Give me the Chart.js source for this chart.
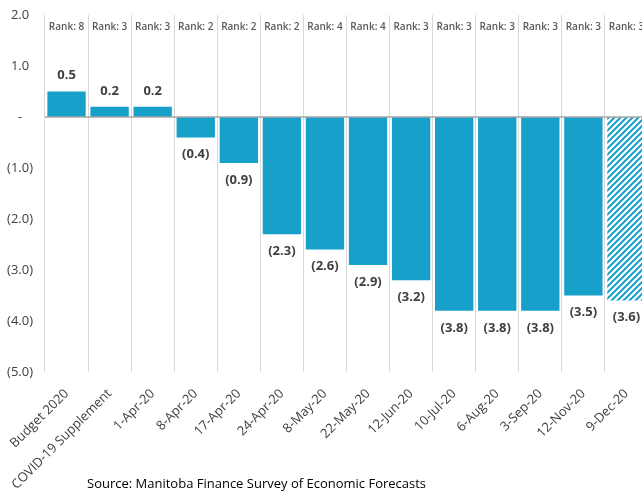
<!DOCTYPE html>
<html>
<head>
<meta charset="utf-8">
<script src="https://cdn.jsdelivr.net/npm/chart.js@4.4.0/dist/chart.umd.min.js"></script>
<style>
  html, body { margin: 0; padding: 0; background: #fff; overflow: hidden; width: 642px; height: 492px; }
  #wrap { position: absolute; left: 0; top: 0; width: 648px; height: 492px; }
  #source { position: absolute; left: 87px; top: 474px; font: 13px "Open Sans", sans-serif; color: #000; white-space: nowrap; }
</style>
</head>
<body>
<div id="wrap"><canvas id="forecastChart"></canvas></div>
<div id="source">Source: Manitoba Finance Survey of Economic Forecasts</div>
<script>
const surveyDates = ['Budget 2020', 'COVID-19 Supplement', '1-Apr-20', '8-Apr-20', '17-Apr-20', '24-Apr-20', '8-May-20',
  '22-May-20', '12-Jun-20', '10-Jul-20', '6-Aug-20', '3-Sep-20', '12-Nov-20', '9-Dec-20'];
const growthValues = [0.5, 0.2, 0.2, -0.4, -0.9, -2.3, -2.6, -2.9, -3.2, -3.8, -3.8, -3.8, -3.5, -3.6];
const rankValues = [8, 3, 3, 2, 2, 2, 4, 4, 3, 3, 3, 3, 3, 3];
const yTicks = [2, 1, 0, -1, -2, -3, -4, -5];

const BLUE = '#17a0ca';
const FONT = '"Open Sans", sans-serif';

function fmt(v) {
  if (Math.abs(v) < 1e-9) return '-';
  return v < 0 ? '(' + Math.abs(v).toFixed(1) + ')' : v.toFixed(1);
}

// diagonal stripes for the latest survey bar
function makeHatch() {
  const c = document.createElement('canvas');
  c.width = 6; c.height = 6;
  const g = c.getContext('2d');
  g.fillStyle = '#fff';
  g.fillRect(0, 0, 6, 6);
  g.strokeStyle = BLUE;
  g.lineWidth = 2;
  g.beginPath();
  g.moveTo(-1, 7); g.lineTo(7, -1);
  g.moveTo(-4, 4); g.lineTo(4, -4);
  g.moveTo(2, 10); g.lineTo(10, 2);
  g.stroke();
  return g.createPattern(c, 'repeat');
}

const hatch = makeHatch();
const barColors = growthValues.map((v, i) => i === growthValues.length - 1 ? hatch : BLUE);

const labelPlugin = {
  id: 'labelPlugin',
  afterDatasetsDraw(chart) {
    const ctx = chart.ctx;
    const x = chart.scales.x, y = chart.scales.y;
    const area = chart.chartArea;
    const meta = chart.getDatasetMeta(0);
    ctx.save();

    // zero line over the bars
    const y0 = y.getPixelForValue(0);
    ctx.strokeStyle = '#a6a6a6';
    ctx.lineWidth = 1.5;
    ctx.beginPath();
    ctx.moveTo(area.left, y0);
    ctx.lineTo(area.right, y0);
    ctx.stroke();

    ctx.textAlign = 'center';
    ctx.textBaseline = 'middle';
    meta.data.forEach((bar, i) => {
      const v = growthValues[i];
      const cx = x.getPixelForValue(i);
      ctx.fillStyle = '#404040';
      ctx.font = 'bold 13px ' + FONT;
      const py = y.getPixelForValue(v);
      ctx.fillText(fmt(v), cx, v >= 0 ? py - 16 : py + 17);

      ctx.fillStyle = '#595959';
      ctx.font = '600 10px ' + FONT;
      ctx.fillText('Rank: ' + rankValues[i], cx, area.top + 12);
    });
    ctx.restore();
  }
};

new Chart(document.getElementById('forecastChart'), {
  type: 'bar',
  data: {
    labels: surveyDates,
    datasets: [{
      data: growthValues,
      backgroundColor: barColors,
      borderWidth: 0,
      categoryPercentage: 1,
      barPercentage: 0.89
    }]
  },
  options: {
    responsive: true,
    maintainAspectRatio: false,
    animation: false,
    layout: { padding: { top: 15, right: 0, left: 0, bottom: 0 } },
    plugins: { legend: { display: false }, tooltip: { enabled: false } },
    scales: {
      x: {
        grid: { color: '#d9d9d9', lineWidth: 1, offset: true, drawTicks: false },
        border: { display: false },
        ticks: { color: '#404040', font: { family: FONT, size: 13 }, maxRotation: 45, minRotation: 45, padding: 14, autoSkip: false },
        afterFit(scale) {
          scale.height = 120;
          scale.paddingLeft = 0;
          scale.paddingRight = 0;
        }
      },
      y: {
        min: -5,
        max: 2,
        afterBuildTicks(scale) { scale.ticks = yTicks.map(v => ({ value: v })); },
        grid: { display: false },
        border: { display: false },
        ticks: {
          color: '#404040',
          font: { family: FONT, size: 13 },
          crossAlign: 'center',
          padding: 4,
          callback: v => fmt(v)
        },
        afterFit(scale) { scale.width = 45; }
      }
    }
  },
  plugins: [labelPlugin]
});
</script>
</body>
</html>
